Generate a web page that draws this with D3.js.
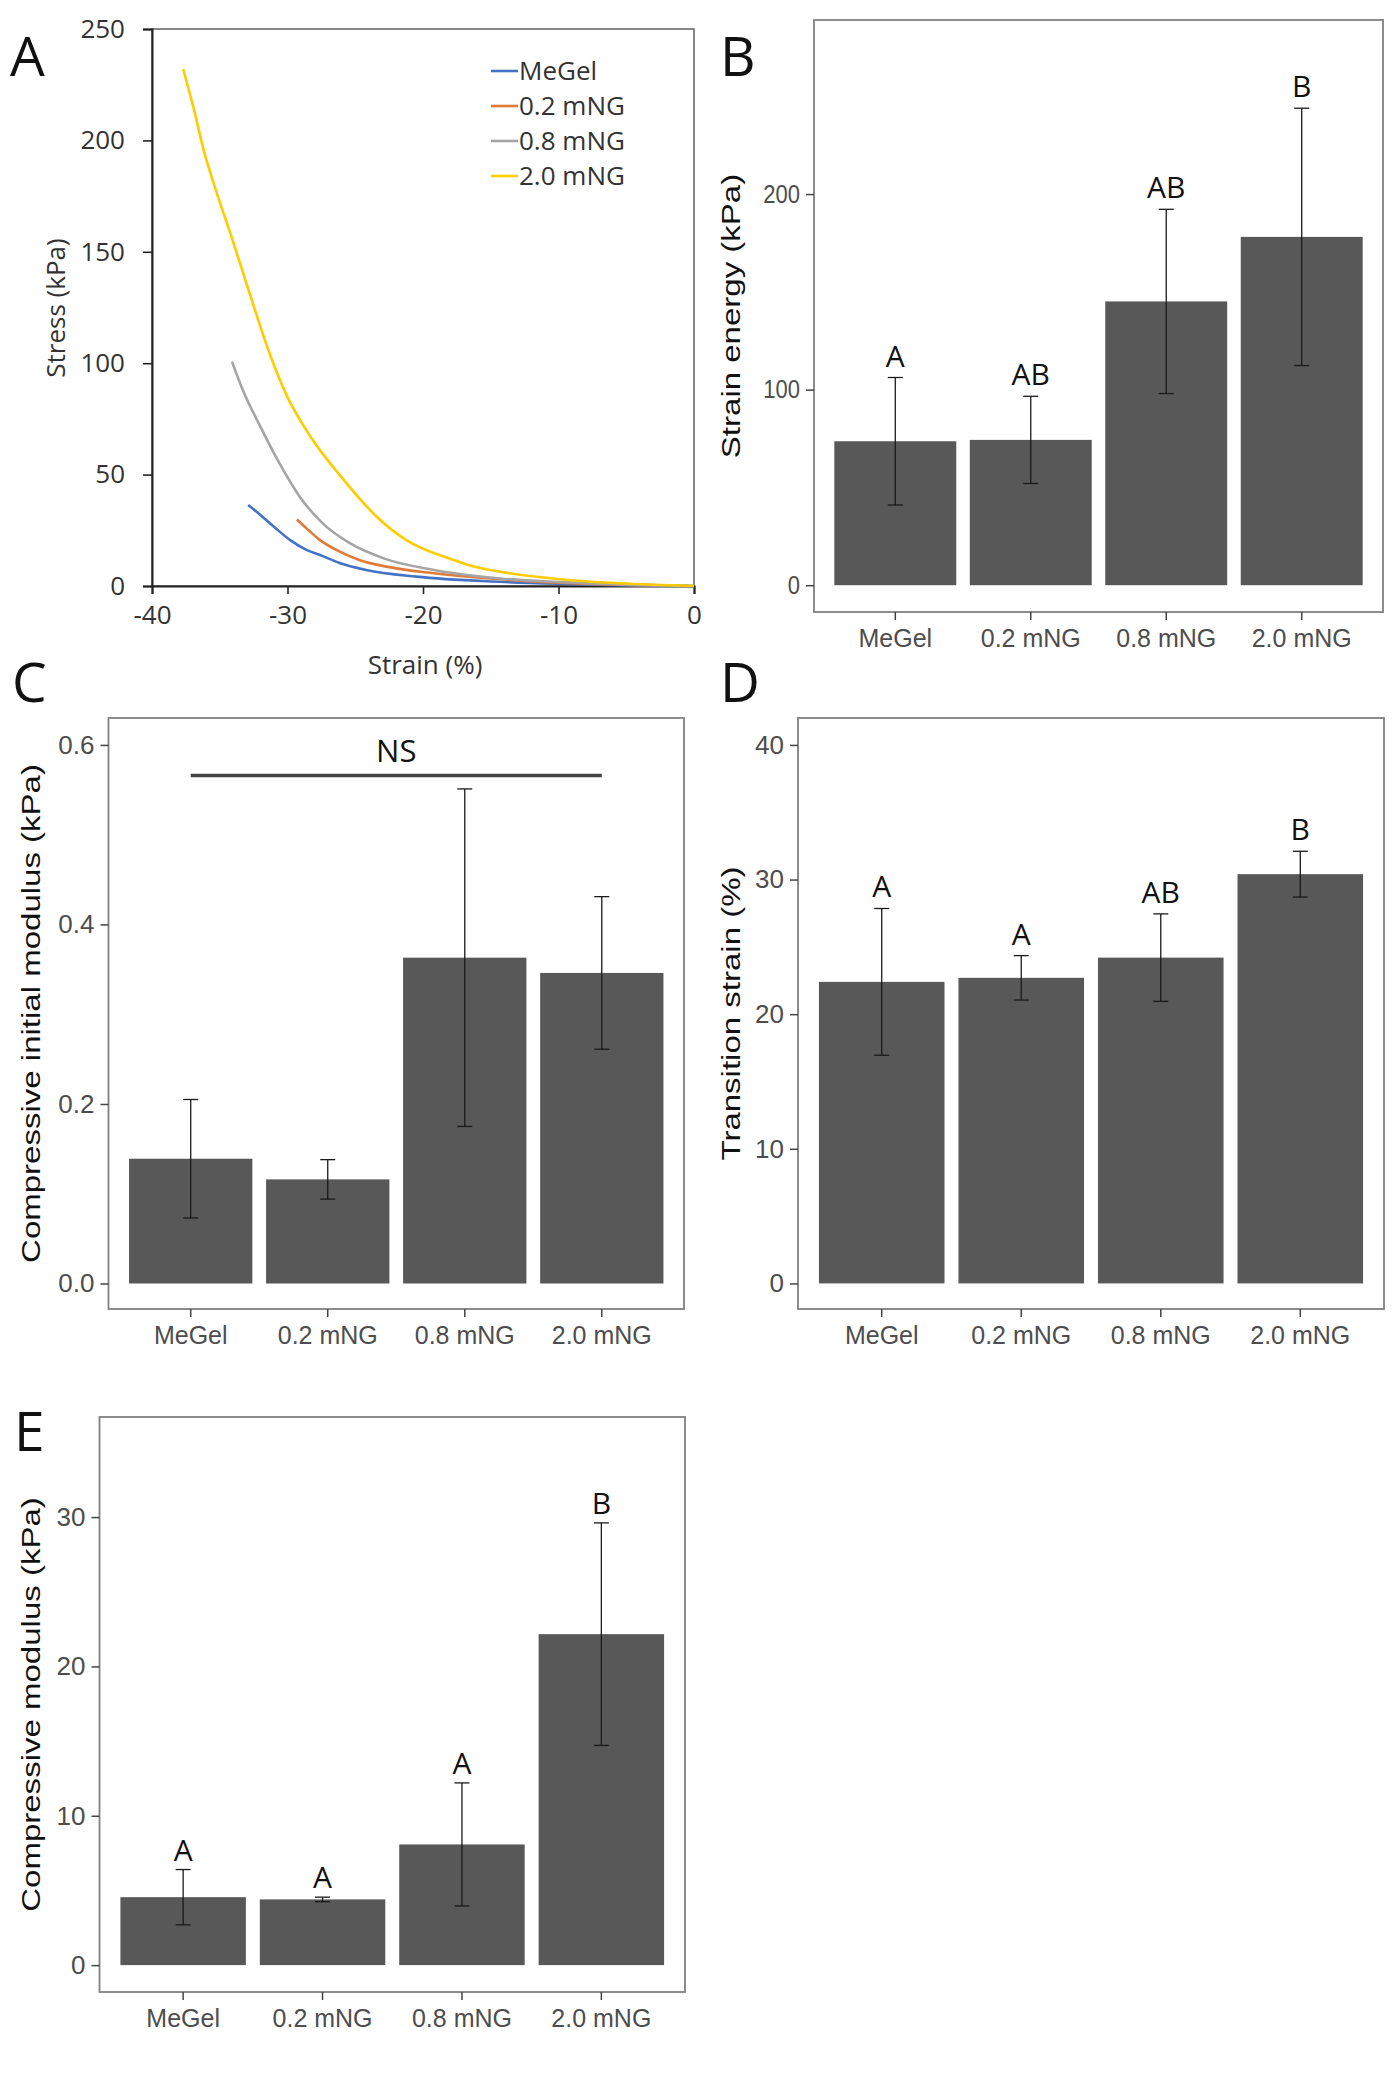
<!DOCTYPE html>
<html>
<head>
<meta charset="utf-8">
<script src="https://cdn.jsdelivr.net/npm/d3@7"></script>
<style>
  html, body { margin: 0; padding: 0; background: #ffffff; }
  svg { display: block; }
</style>
</head>
<body>
<script>
// ---------------- DATA ----------------
// Panel A: stress–strain curves
const curveSeries = ["MeGel", "0.2 mNG", "0.8 mNG", "2.0 mNG"];
const strainMeGel = [-32.9, -32.0, -31.0, -29.8, -28.6, -27.6, -26.1, -24.2, -20.5, -14.3, -10, -5, 0];
const stressMeGel = [36.4, 31.9, 26.6, 20.6, 16.2, 13.9, 10.2, 7.2, 4.2, 1.9, 1.0, 0.3, 0];
const strain02 = [-29.3, -28.6, -27.6, -26.4, -24.7, -22.7, -19.2, -14.3, -10, -5, 0];
const stress02 = [29.9, 25.9, 20.6, 16.2, 11.7, 8.7, 5.7, 3.0, 1.5, 0.5, 0];
const strain08 = [-34.1, -33.3, -32.0, -30.6, -29.1, -27.4, -25.4, -22.9, -19.2, -14.3, -10, -5, 0];
const stress08 = [100.7, 88.0, 71.5, 55.1, 40.1, 28.1, 19.2, 12.4, 7.2, 3.4, 1.8, 0.6, 0];
const strain20 = [-37.7, -36.95, -36.2, -35.2, -34.2, -33.3, -32.3, -31.3, -30.1, -28.3, -25.9, -23.4, -21.2, -18.0, -16.8, -14.3, -10.4, -5.5, 0];
const stress20 = [232, 215, 196, 176, 158, 141, 122, 104, 86, 67, 48, 31, 20.5, 12.2, 9.7, 6.4, 3.4, 1.2, 0];
const strainTicks = [-40, -30, -20, -10, 0];
const stressTicks = [0, 50, 100, 150, 200, 250];

// Bar panels
const groups = ["MeGel", "0.2 mNG", "0.8 mNG", "2.0 mNG"];

const energyMean = [73.6, 74.3, 145.1, 178.1];
const energySD = [32.6, 22.3, 47.1, 65.8];
const energyLetters = ["A", "AB", "AB", "B"];
const energyTicks = [0, 100, 200];

const initModMean = [0.139, 0.116, 0.363, 0.346];
const initModSD = [0.066, 0.022, 0.188, 0.085];
const initModTicks = [0.0, 0.2, 0.4, 0.6];
const initModNSLevel = 0.566;

const transMean = [22.4, 22.7, 24.2, 30.4];
const transSD = [5.45, 1.65, 3.25, 1.7];
const transLetters = ["A", "A", "AB", "B"];
const transTicks = [0, 10, 20, 30, 40];

const modMean = [4.55, 4.40, 8.08, 22.16];
const modSD = [1.85, 0.15, 4.12, 7.45];
const modLetters = ["A", "A", "A", "B"];
const modTicks = [0, 10, 20, 30];

// ---------------- DRAWING ----------------
const svg = d3.select("body").append("svg")
  .attr("width", 1400).attr("height", 2100)
  .style("font-family", "'Liberation Sans', Arial, sans-serif");

const seriesColors = ["#4472C4", "#E07B39", "#A5A5A5", "#FFCC00"];
const panelLetterFont = "'Open Sans', 'Noto Sans', sans-serif";

function panelLetter(txt, x, y) {
  svg.append("text").attr("x", x).attr("y", y)
    .attr("font-family", panelLetterFont).attr("font-size", 55)
    .attr("fill", "#111").text(txt);
}

// ---- Panel A ----
(function () {
  const L = 152, R = 694, T = 29, B = 586;
  const x = d3.scaleLinear().domain([-40, 0]).range([L, R]);
  const y = d3.scaleLinear().domain([0, 250]).range([B, T]);
  const g = svg.append("g");

  g.append("rect").attr("x", L).attr("y", T).attr("width", R - L).attr("height", B - T)
    .attr("fill", "none").attr("stroke", "#6a6a6a").attr("stroke-width", 1.6);

  const plain = d => String(d);
  const ax = g.append("g").attr("transform", `translate(${L},0)`)
    .call(d3.axisLeft(y).tickValues(stressTicks).tickFormat(plain).tickSize(9).tickPadding(18));
  const bx = g.append("g").attr("transform", `translate(0,${B})`)
    .call(d3.axisBottom(x).tickValues(strainTicks).tickFormat(plain).tickSize(8).tickPadding(12));
  [ax, bx].forEach(a => {
    a.select(".domain").attr("stroke", "#222").attr("stroke-width", 2);
    a.selectAll(".tick line").attr("stroke", "#222").attr("stroke-width", 1.6);
    a.selectAll(".tick text").attr("font-family", "'Open Sans', sans-serif")
      .attr("font-size", 26).attr("fill", "#333");
  });

  const line = d3.line().x(d => x(d[0])).y(d => y(d[1])).curve(d3.curveMonotoneX);
  const curves = [
    d3.zip(strainMeGel, stressMeGel),
    d3.zip(strain02, stress02),
    d3.zip(strain08, stress08),
    d3.zip(strain20, stress20)
  ];
  curves.forEach((pts, i) => {
    g.append("path").datum(pts).attr("d", line)
      .attr("fill", "none").attr("stroke", seriesColors[i]).attr("stroke-width", 2.6)
      .attr("stroke-linejoin", "round");
  });

  // legend
  curveSeries.forEach((s, i) => {
    const ly = 71 + i * 35;
    g.append("line").attr("x1", 491).attr("x2", 518).attr("y1", ly).attr("y2", ly)
      .attr("stroke", seriesColors[i]).attr("stroke-width", 2.6);
    g.append("text").attr("x", 519).attr("y", ly).attr("dy", "0.35em")
      .attr("font-family", "'Open Sans', sans-serif").attr("font-size", 26)
      .attr("fill", "#333").text(s);
  });

  g.append("text").attr("x", (L + R) / 2 + 2).attr("y", 674).attr("text-anchor", "middle")
    .attr("font-family", "'Open Sans', sans-serif").attr("font-size", 26).attr("fill", "#333")
    .text("Strain (%)");
  g.append("text").attr("transform", `translate(56,308) rotate(-90)`)
    .attr("text-anchor", "middle").attr("dy", "0.35em")
    .attr("font-family", "'Open Sans', sans-serif").attr("font-size", 26).attr("fill", "#333")
    .text("Stress (kPa)");
  panelLetter("A", 10, 76);
})();

// ---- Bar panels ----
function barPanel(cfg) {
  const { L, R, T, B, yDomain, ticks, fmt, means, sds, letters, title, titleX, letter, letterX, letterY, yTickSize, yTickStretch } = cfg;
  const g = svg.append("g");
  const x = d3.scaleBand().domain(groups).range([L, R]).paddingInner(0.1).paddingOuter(0.15);
  const y = d3.scaleLinear().domain(yDomain).range([B, T]);

  g.append("rect").attr("x", L).attr("y", T).attr("width", R - L).attr("height", B - T)
    .attr("fill", "#fff").attr("stroke", "#808080").attr("stroke-width", 1.8);

  const data = groups.map((k, i) => ({ k, m: means[i], s: sds[i], lab: letters ? letters[i] : null }));

  g.selectAll("rect.bar").data(data).join("rect").attr("class", "bar")
    .attr("x", d => x(d.k)).attr("width", x.bandwidth())
    .attr("y", d => y(d.m)).attr("height", d => y(0) - y(d.m))
    .attr("fill", "#585858");

  const cx = d => x(d.k) + x.bandwidth() / 2;
  const capW = 7.5;
  g.selectAll("line.eb").data(data).join("line").attr("class", "eb")
    .attr("x1", cx).attr("x2", cx).attr("y1", d => y(d.m - d.s)).attr("y2", d => y(d.m + d.s))
    .attr("stroke", "#1a1a1a").attr("stroke-width", 1.3);
  g.selectAll("line.capT").data(data).join("line").attr("class", "capT")
    .attr("x1", d => cx(d) - capW).attr("x2", d => cx(d) + capW)
    .attr("y1", d => y(d.m + d.s)).attr("y2", d => y(d.m + d.s))
    .attr("stroke", "#1a1a1a").attr("stroke-width", 1.3);
  g.selectAll("line.capB").data(data).join("line").attr("class", "capB")
    .attr("x1", d => cx(d) - capW).attr("x2", d => cx(d) + capW)
    .attr("y1", d => y(d.m - d.s)).attr("y2", d => y(d.m - d.s))
    .attr("stroke", "#1a1a1a").attr("stroke-width", 1.3);

  if (letters) {
    g.selectAll("text.sig").data(data).join("text").attr("class", "sig")
      .attr("x", cx).attr("y", d => y(d.m + d.s) - (cfg.letterGap || 11)).attr("text-anchor", "middle")
      .attr("font-family", "'Open Sans', sans-serif").attr("font-size", 30).attr("fill", "#111")
      .text(d => d.lab);
  }

  if (cfg.nsLevel !== undefined) {
    const x1 = cx(data[0]), x2 = cx(data[data.length - 1]);
    g.append("line").attr("x1", x1).attr("x2", x2)
      .attr("y1", y(cfg.nsLevel)).attr("y2", y(cfg.nsLevel))
      .attr("stroke", "#444").attr("stroke-width", 3.5);
    g.append("text").attr("x", (x1 + x2) / 2).attr("y", y(cfg.nsLevel) - 13)
      .attr("text-anchor", "middle").attr("font-family", "'Open Sans', sans-serif")
      .attr("font-size", 31).attr("fill", "#111").text("NS");
  }

  const ay = g.append("g").attr("transform", `translate(${L},0)`)
    .call(d3.axisLeft(y).tickValues(ticks).tickFormat(fmt).tickSize(8).tickPadding(6));
  const axb = g.append("g").attr("transform", `translate(0,${B})`)
    .call(d3.axisBottom(x).tickSize(8).tickPadding(9));
  [ay, axb].forEach(a => {
    a.select(".domain").remove();
    a.selectAll(".tick line").attr("stroke", "#444").attr("stroke-width", 1.5);
    a.selectAll(".tick text").attr("font-family", "'Liberation Sans', Arial, sans-serif")
      .attr("fill", "#4d4d4d");
  });
  ay.selectAll(".tick text").attr("font-size", yTickSize)
    .attr("transform", `scale(1,${yTickStretch})`);
  axb.selectAll(".tick text").attr("font-size", 25);

  g.append("text")
    .attr("transform", `translate(${titleX},${(T + B) / 2}) rotate(-90) scale(1.27,1)`)
    .attr("text-anchor", "middle").attr("dy", "0.35em")
    .attr("font-size", 26).attr("fill", "#111").text(title);

  panelLetter(letter, letterX, letterY);
}

barPanel({
  L: 814, R: 1383, T: 20, B: 612, yDomain: [-13.7, 289], ticks: energyTicks, fmt: d3.format("d"),
  means: energyMean, sds: energySD, letters: energyLetters, yTickSize: 22, yTickStretch: 1.15,
  title: "Strain energy (kPa)", titleX: 731, letter: "B", letterX: 720, letterY: 76
});

barPanel({
  L: 108.5, R: 684, T: 718, B: 1309, yDomain: [-0.0284, 0.630], ticks: initModTicks, fmt: d3.format(".1f"),
  means: initModMean, sds: initModSD, letters: null, nsLevel: initModNSLevel, yTickSize: 26, yTickStretch: 1,
  title: "Compressive initial modulus (kPa)", titleX: 31, letter: "C", letterX: 12, letterY: 702
});

barPanel({
  L: 798, R: 1384, T: 718, B: 1309, yDomain: [-1.9, 42.0], ticks: transTicks, fmt: d3.format("d"),
  means: transMean, sds: transSD, letters: transLetters, yTickSize: 26, yTickStretch: 1,
  title: "Transition strain (%)", titleX: 731, letter: "D", letterX: 720, letterY: 702
});

barPanel({
  L: 99.5, R: 685, T: 1417, B: 1992, yDomain: [-1.8, 36.7], ticks: modTicks, fmt: d3.format("d"),
  means: modMean, sds: modSD, letters: modLetters, yTickSize: 26, yTickStretch: 1, letterGap: 9,
  title: "Compressive modulus (kPa)", titleX: 31, letter: "E", letterX: 14, letterY: 1451
});
</script>
</body>
</html>
